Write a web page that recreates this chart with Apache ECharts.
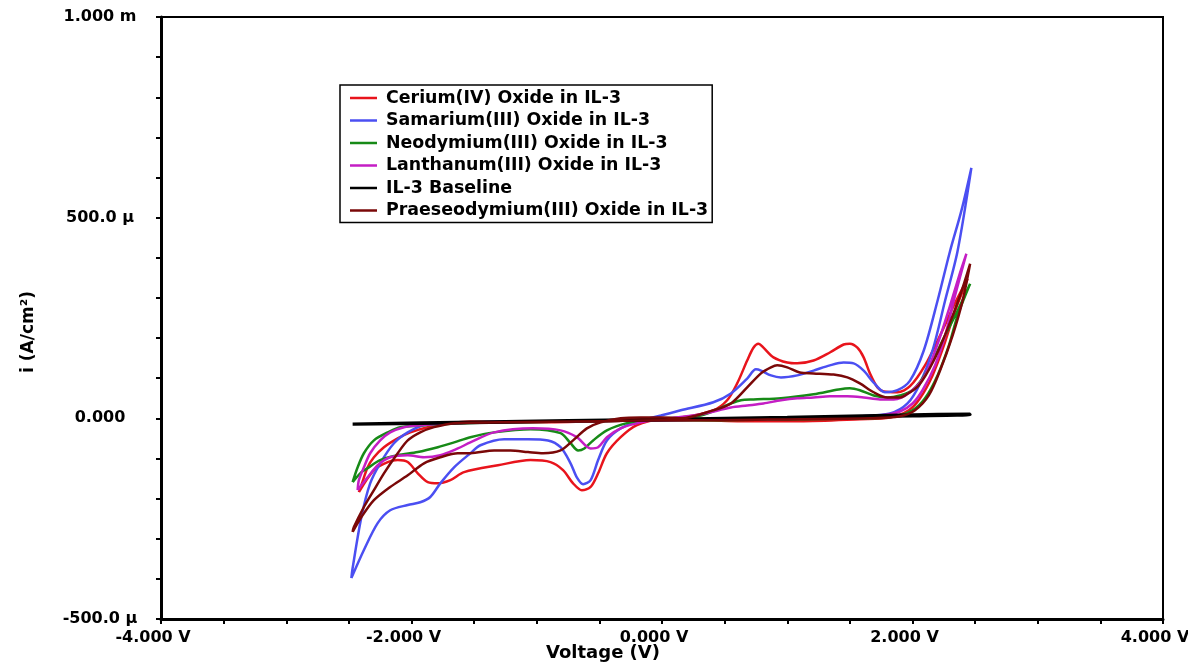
<!DOCTYPE html>
<html>
<head>
<meta charset="utf-8">
<script src="https://cdn.jsdelivr.net/npm/echarts@6/dist/echarts.min.js"></script>
<style>
html,body{margin:0;padding:0;background:#fff;}
#chart{width:1188px;height:667px;}
</style>
</head>
<body>
<div id="chart"></div>
<script>
// Tick labels
const xTickLabels = {'-4': '-4.000 V', '-2': '-2.000 V', '0': '0.000 V', '2': '2.000 V', '4': '4.000 V'};
const yTickLabels = {'1000': '1.000 m', '500': '500.0 µ', '0': '0.000', '-500': '-500.0 µ'};

const seriesNames = [
  'Cerium(IV) Oxide in IL-3',
  'Samarium(III) Oxide in IL-3',
  'Neodymium(III) Oxide in IL-3',
  'Lanthanum(III) Oxide in IL-3',
  'IL-3 Baseline',
  'Praeseodymium(III) Oxide in IL-3'
];

// [Voltage (V), current density (µA/cm²)] in sweep order
const ceriumData = [
  [-2.42,-184],[-2.30,-129],[-2.19,-109],[-2.11,-104],[-2.03,-109],[-1.95,-137],[-1.87,-159],[-1.79,-162],
  [-1.69,-154],[-1.58,-134],[-1.31,-117],[-1.05,-104],[-0.89,-109],[-0.79,-129],[-0.71,-162],[-0.64,-179],
  [-0.57,-171],[-0.51,-137],[-0.44,-87],[-0.33,-47],[-0.20,-17],[0.01,0],
  [0.15,2],[0.41,20],[0.52,45],[0.60,87],[0.68,144],[0.73,176],[0.77,186],[0.81,176],[0.89,152],[1.00,139],
  [1.08,137],[1.21,144],[1.34,164],[1.45,184],[1.50,186],[1.56,176],[1.61,152],[1.66,112],[1.72,77],[1.77,67],
  [1.88,65],[1.98,80],[2.10,132],[2.22,206],[2.33,281],[2.44,348],
  [2.34,268],[2.25,181],[2.16,107],[2.06,50],[1.97,20],[1.82,2],[1.58,-2],[1.10,-7],[0.63,-7],[0.31,-5],[0.01,-5],
  [-0.49,-7],[-1.05,-10],[-1.53,-8],[-1.69,-12],[-1.87,-22],[-2.01,-35],[-2.11,-50],[-2.22,-72],[-2.30,-97],
  [-2.35,-122],[-2.40,-166],[-2.42,-184]
];
const samariumData = [
  [-2.48,-398],[-2.38,-328],[-2.27,-261],[-2.17,-229],[-2.03,-216],[-1.93,-209],[-1.85,-196],[-1.77,-162],
  [-1.66,-122],[-1.53,-87],[-1.45,-67],[-1.26,-52],[-1.07,-52],[-0.91,-55],[-0.81,-72],[-0.73,-112],[-0.68,-147],
  [-0.63,-164],[-0.57,-154],[-0.51,-104],[-0.44,-55],[-0.33,-25],[-0.17,-5],[-0.01,7],
  [0.15,20],[0.41,40],[0.55,62],[0.68,99],[0.75,122],[0.79,119],[0.87,107],[0.95,102],[1.08,107],[1.21,119],
  [1.34,132],[1.45,139],[1.53,137],[1.61,119],[1.69,89],[1.78,65],[1.88,70],[1.98,94],[2.09,169],[2.20,293],
  [2.30,417],[2.39,517],[2.47,624],
  [2.36,417],[2.26,293],[2.16,169],[2.06,87],[1.96,37],[1.82,12],[1.58,5],[1.10,0],[0.63,-2],[0.15,-2],[-0.17,-5],
  [-0.81,-7],[-1.45,-10],[-1.90,-17],[-2.03,-35],[-2.14,-62],[-2.25,-112],[-2.33,-162],[-2.40,-246],[-2.47,-373],
  [-2.48,-398]
];
const neodymiumData = [
  [-2.47,-159],[-2.40,-134],[-2.35,-124],[-2.25,-104],[-2.11,-92],[-1.95,-84],[-1.79,-72],[-1.66,-60],[-1.53,-47],
  [-1.34,-35],[-1.05,-27],[-0.81,-37],[-0.73,-62],[-0.67,-80],[-0.62,-75],[-0.55,-55],[-0.44,-30],[-0.28,-12],
  [-0.12,-5],[0.01,0],
  [0.31,7],[0.55,37],[0.63,45],[0.73,47],[0.95,50],[1.21,60],[1.41,72],[1.50,75],[1.58,70],[1.69,57],[1.80,52],
  [1.90,57],[2.00,70],[2.12,119],[2.24,194],[2.36,268],[2.46,335],
  [2.36,256],[2.29,181],[2.20,107],[2.10,50],[2.00,20],[1.86,5],[1.66,0],[1.10,-2],[0.31,-5],[0.01,-5],
  [-0.49,-7],[-1.29,-10],[-1.77,-15],[-2.09,-22],[-2.19,-35],[-2.30,-55],[-2.38,-87],[-2.43,-122],[-2.47,-159]
];
const lanthanumData = [
  [-2.43,-179],[-2.35,-147],[-2.27,-117],[-2.17,-97],[-2.03,-92],[-1.90,-97],[-1.77,-92],[-1.63,-75],[-1.53,-60],
  [-1.34,-35],[-1.03,-25],[-0.81,-30],[-0.68,-47],[-0.57,-75],[-0.51,-72],[-0.44,-47],[-0.33,-25],[-0.17,-10],
  [0.01,-2],
  [0.31,10],[0.55,27],[0.68,32],[0.81,37],[0.95,45],[1.08,50],[1.21,52],[1.34,55],[1.48,55],[1.61,52],[1.74,47],
  [1.85,47],[1.98,65],[2.10,107],[2.21,194],[2.30,281],[2.38,363],[2.43,410],
  [2.34,306],[2.26,206],[2.18,132],[2.08,70],[2.00,37],[1.90,17],[1.74,7],[1.26,0],[0.63,-2],[0.01,-5],
  [-0.65,-7],[-1.45,-10],[-1.93,-17],[-2.06,-22],[-2.17,-35],[-2.25,-55],[-2.33,-87],[-2.38,-122],[-2.42,-154],
  [-2.43,-179]
];
const baselineData = [
  [-2.47,-15],[-1.50,-11],[0.00,-4],[1.00,1],[2.00,6],[2.46,9],
  [2.46,11],[2.00,9],[1.00,3],[0.00,-2],[-1.50,-9],[-2.47,-14]
];
const praseodymiumData = [
  [-2.47,-283],[-2.40,-246],[-2.30,-204],[-2.17,-171],[-2.03,-142],[-1.90,-112],[-1.77,-97],[-1.63,-87],[-1.53,-87],
  [-1.34,-80],[-1.21,-80],[-1.07,-84],[-0.95,-87],[-0.81,-80],[-0.71,-55],[-0.60,-25],[-0.49,-10],[-0.33,0],
  [-0.17,2],[0.01,2],
  [0.15,0],[0.41,20],[0.55,37],[0.68,77],[0.79,112],[0.87,127],[0.92,132],[1.00,127],[1.10,114],[1.21,112],
  [1.37,109],[1.48,102],[1.58,87],[1.69,65],[1.80,52],[1.90,52],[1.94,57],[2.05,82],[2.17,144],[2.29,231],
  [2.38,306],[2.46,385],
  [2.40,293],[2.32,206],[2.22,119],[2.13,57],[2.02,20],[1.90,5],[1.66,0],[1.10,-2],[0.31,-5],[0.01,-5],
  [-0.49,-7],[-1.29,-10],[-1.66,-12],[-1.82,-22],[-1.93,-35],[-2.03,-55],[-2.11,-87],[-2.22,-137],[-2.30,-179],
  [-2.38,-221],[-2.46,-271],[-2.47,-283]
];

const seriesData = [ceriumData, samariumData, neodymiumData, lanthanumData, baselineData, praseodymiumData];
const seriesColors = ['#e8141c', '#4b4ff2', '#178a17', '#c41ec4', '#000000', '#7a0808'];

const FONT = '"DejaVu Sans", "Liberation Sans", Arial, sans-serif';

const chart = echarts.init(document.getElementById('chart'), null, {renderer: 'canvas'});
chart.setOption({
  animation: false,
  backgroundColor: '#ffffff',
  grid: {left: 161, right: 25, top: 17, bottom: 48, show: true, borderColor: '#000', borderWidth: 2,
         containLabel: false, outerBoundsMode: 'none'},
  legend: {
    orient: 'vertical', left: 340, top: 85,
    data: seriesNames.map(n => ({name: n, icon: 'rect'})),
    itemWidth: 27, itemHeight: 2.5, itemGap: 0.5,
    padding: [2, 4, 1, 10],
    borderColor: '#000', borderWidth: 1.5,
    backgroundColor: '#fff',
    textStyle: {fontFamily: FONT, fontWeight: 'bold', fontSize: 17.4, color: '#000', lineHeight: 22, padding: [0, 0, 0, 4]}
  },
  xAxis: {
    type: 'value', min: -4, max: 4, interval: 2,
    name: 'Voltage (V)', nameLocation: 'middle', nameGap: 25, nameMoveOverlap: false,
    nameTextStyle: {fontFamily: FONT, fontWeight: 'bold', fontSize: 18, color: '#000', padding: [0, 118, 0, 0]},
    axisLine: {show: true, onZero: false, lineStyle: {color: '#000', width: 3}},
    axisTick: {show: true, length: 5, lineStyle: {color: '#000', width: 2}},
    minorTick: {show: true, splitNumber: 4, length: 5, lineStyle: {color: '#000', width: 2}},
    splitLine: {show: false},
    axisLabel: {
      fontFamily: FONT, fontWeight: 'bold', fontSize: 16, color: '#000', margin: 11,
      padding: [0, 16, 0, 0],
      formatter: v => xTickLabels[String(Math.round(v))] || ''
    }
  },
  yAxis: {
    type: 'value', min: -500, max: 1000, interval: 500,
    name: 'i (A/cm²)', nameLocation: 'middle', nameGap: 124, nameRotate: 90, nameMoveOverlap: false,
    nameTextStyle: {fontFamily: FONT, fontWeight: 'bold', fontSize: 17, color: '#000', padding: [0, 28, 0, 0]},
    axisLine: {show: true, onZero: false, lineStyle: {color: '#000', width: 3}},
    axisTick: {show: true, length: 5, lineStyle: {color: '#000', width: 2}},
    minorTick: {show: true, splitNumber: 5, length: 5, lineStyle: {color: '#000', width: 2}},
    splitLine: {show: false},
    axisLabel: {
      fontFamily: FONT, fontWeight: 'bold', fontSize: 16, color: '#000', margin: 61, align: 'center',
      formatter: v => yTickLabels[String(Math.round(v))] || ''
    }
  },
  series: seriesNames.map((name, i) => ({
    name: name,
    type: 'line',
    data: seriesData[i],
    symbol: 'none',
    smooth: 0.3,
    color: seriesColors[i],
    lineStyle: {color: seriesColors[i], width: i === 4 ? 3 : 2.5},
    z: 2 + i
  }))
});
</script>
</body>
</html>
